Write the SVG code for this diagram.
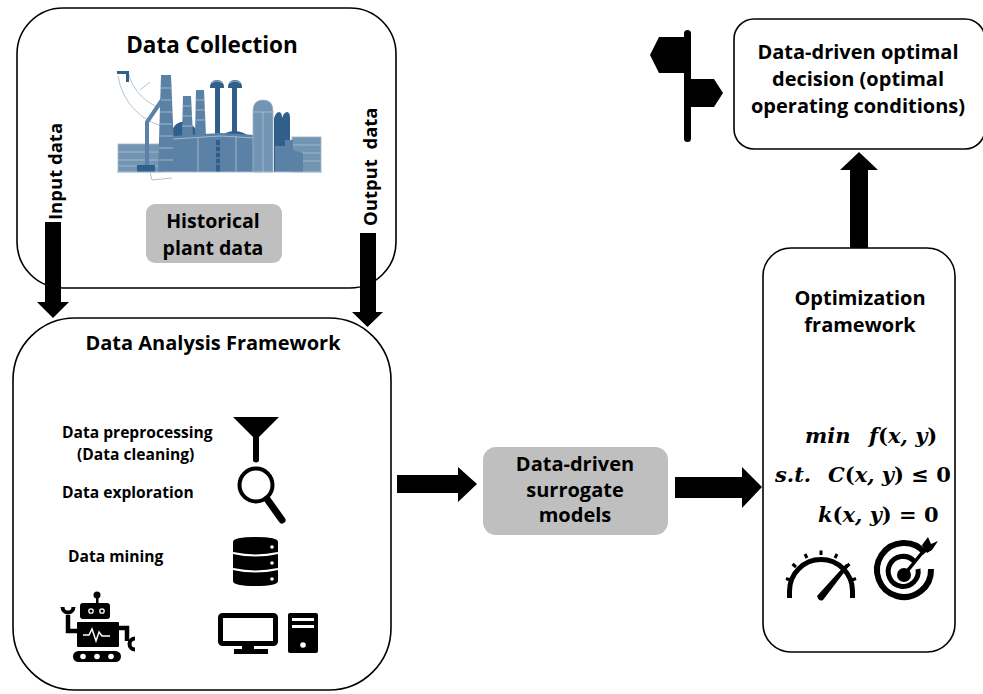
<svg xmlns="http://www.w3.org/2000/svg" width="983" height="694" viewBox="0 0 983 694">
  <style>
    .box { fill: #ffffff; stroke: #000000; stroke-width: 1.6; }
    .gbox { fill: #bfbfbf; }
    .t { font-family: "Open Sans", Lato, "Liberation Sans", sans-serif; font-weight: bold; fill: #000000; }
    .lbl { font-size: 15.6px; }
    .big { font-size: 20px; }
    .math { font-family: "DejaVu Serif", "Liberation Serif", serif; font-weight: bold; font-style: italic; font-size: 21px; fill: #000000; }
    .up { font-style: normal; }
    .blk { fill: #000000; }
    .wht { fill: #ffffff; }
    .fm { fill: #5b82a6; }
    .fd { fill: #2f5f8a; }
    .fl { fill: #7395b4; stroke: #9fb6c9; stroke-width: 0.8; }
    .ln { stroke: #a9bccc; stroke-width: 0.9; fill: none; }
  </style>

  <!-- Data collection -->
  <g id="data-collection">
    <rect class="box" x="17" y="8" width="379" height="280" rx="46"/>
    <text class="t" x="212" y="53" font-size="22.5" text-anchor="middle">Data Collection</text>
    <!-- plant illustration -->
    <g id="plant">
      <path class="ln" d="M118,76 A62,62 0 0 0 170,128"/>
      <path class="ln" d="M128,72 A50,50 0 0 0 168,110"/>
      <path class="ln" d="M140,90 L150,82"/>
      <path class="fd" d="M117,71 h12 v11 h-3 v-8 h-9 z"/>
      <rect class="fl" x="118" y="144" width="44" height="28"/>
      <path class="ln" d="M118,152 H162 M118,160 H162 M118,166 H162"/>
      <rect class="fl" x="292" y="137" width="29" height="35"/>
      <path class="ln" d="M292,145 H321 M292,153 H321 M292,161 H321"/>
      <path d="M147,170 V122 L162,100" fill="none" stroke="#5b82a6" stroke-width="4"/>
      <rect class="fd" x="137" y="165" width="18" height="7"/>
      <path class="fd" d="M170,140 Q172,120 186,122 Q196,124 200,140 Z"/>
      <path class="fm" d="M158,172 L161,75 L171,75 L175,172 Z"/>
      <path class="ln" d="M161,88 H171 M161,100 H171 M160,112 H172 M160,124 H172 M159,136 H173 M159,148 H174 M159,160 H174"/>
      <path class="fm" d="M182,136 L183,96 L191,96 L193,136 Z"/>
      <path class="fm" d="M195,136 L196,90 L204,90 L206,136 Z"/>
      <path class="ln" d="M183,106 H192 M183,116 H192 M182,126 H193 M196,100 H205 M196,110 H205 M195,120 H206"/>
      <rect class="fd" x="215" y="86" width="5" height="50"/>
      <rect class="fd" x="232" y="86" width="5" height="50"/>
      <path class="fd" d="M210,88 Q210,80 217,80 Q224,80 224,88 Z"/>
      <path class="fd" d="M228,88 Q228,80 235,80 Q242,80 242,88 Z"/>
      <path d="M212,83 Q217,79 222,83" stroke="#9fb6c9" stroke-width="1" fill="none"/>
      <path d="M230,83 Q235,79 240,83" stroke="#9fb6c9" stroke-width="1" fill="none"/>
      <path class="fd" d="M218,138 Q234,124 252,138 Z"/>
      <path class="fm" d="M173,172 V136 L220,133 L273,136 V172 Z"/>
      <path class="ln" d="M173,139 L220,136 L273,139 M236,136 V172 M198,138 V172"/>
      <path class="fd" d="M216,140 h4 v32 h-4 z M261,145 h4 v27 h-4 z"/>
      <path d="M216,146 h4 M216,152 h4 M216,158 h4 M216,164 h4 M261,151 h4 M261,157 h4 M261,163 h4" stroke="#7395b4" stroke-width="1"/>
      <path class="fl" d="M253,172 V111 Q253,100 263,100 Q273,100 273,111 V172 Z"/>
      <path class="ln" d="M253,112 H273 M263,112 V172"/>
      <path class="fd" d="M274,172 V118 Q276,112 279,112 Q282,112 282,118 Q284,112 287,112 Q290,112 290,118 V172 Z"/>
      <path class="fm" d="M275,172 V146 H285 V140 H293 V150 L303,153 V172 Z"/>
      <path class="ln" d="M117,172 H322"/>
      <path class="ln" d="M150,172 L152,180 L172,178"/>
    </g>
    <rect class="gbox" x="146" y="204" width="136" height="59" rx="9"/>
    <text class="t" x="213" y="228" font-size="19.5" text-anchor="middle">Historical</text>
    <text class="t" x="213" y="255" font-size="19.5" text-anchor="middle">plant data</text>
  </g>

  <!-- Data analysis framework -->
  <g id="data-analysis">
    <rect class="box" x="13" y="318" width="378" height="372" rx="62"/>
    <text class="t" x="213" y="350" font-size="20" text-anchor="middle">Data Analysis Framework</text>
    <text class="t lbl" x="62" y="438">Data preprocessing</text>
    <text class="t lbl" x="77" y="460">(Data cleaning)</text>
    <text class="t lbl" x="62" y="498">Data exploration</text>
    <text class="t lbl" x="68" y="562">Data mining</text>
    <!-- funnel -->
    <path class="blk" d="M233,417 H279 L259,437 V461 Q256,464 253,461 V437 Z"/>
    <!-- magnifier -->
    <circle cx="256" cy="485" r="16.5" fill="none" stroke="#000" stroke-width="4"/>
    <path d="M267,499 L282,520" stroke="#000" stroke-width="7" stroke-linecap="round"/>
    <!-- database -->
    <path class="blk" d="M233,542 Q233,537 255.5,537 Q278,537 278,542 V581 Q278,586 255.5,586 Q233,586 233,581 Z"/>
    <path d="M233,553 Q255.5,558 278,553 M233,569 Q255.5,574 278,569" stroke="#fff" stroke-width="2.2" fill="none"/>
    <circle class="wht" cx="272" cy="547" r="1.8"/>
    <circle class="wht" cx="272" cy="563" r="1.8"/>
    <circle class="wht" cx="272" cy="579" r="1.8"/>
    <!-- robot -->
    <circle class="blk" cx="97" cy="595" r="3.5"/>
    <rect class="blk" x="96" y="597" width="2.5" height="7"/>
    <rect class="blk" x="80" y="603" width="30" height="16" rx="3"/>
    <circle cx="91" cy="611" r="2.2" fill="none" stroke="#fff" stroke-width="1.3"/>
    <circle cx="102" cy="611" r="2.2" fill="none" stroke="#fff" stroke-width="1.3"/>
    <rect class="blk" x="77" y="622" width="42" height="25" rx="1"/>
    <polyline points="83,635 89,635 92,629 96,641 99,632 102,636 110,636" fill="none" stroke="#fff" stroke-width="1.5"/>
    <path d="M78,631 H68 V615" fill="none" stroke="#000" stroke-width="4.5"/>
    <path d="M62.5,607 A5.5,5.5 0 1 0 73.5,607" fill="none" stroke="#000" stroke-width="4"/>
    <path d="M118,628 H127 V641" fill="none" stroke="#000" stroke-width="4.5"/>
    <path d="M135,638.5 A5.5,5.5 0 1 0 135,649.5" fill="none" stroke="#000" stroke-width="4"/>
    <rect class="blk" x="73" y="651" width="48" height="11" rx="5.5"/>
    <circle class="wht" cx="83" cy="656.5" r="2.8"/>
    <circle class="wht" cx="97" cy="656.5" r="2.8"/>
    <circle class="wht" cx="111" cy="656.5" r="2.8"/>
    <!-- computer -->
    <rect x="220.5" y="615.5" width="55" height="28" rx="2" fill="#fff" stroke="#000" stroke-width="5"/>
    <rect class="blk" x="242" y="645" width="12" height="5"/>
    <rect class="blk" x="234" y="649" width="34" height="5"/>
    <rect class="blk" x="288" y="613" width="30" height="40" rx="2"/>
    <rect class="wht" x="292" y="618" width="22" height="3"/>
    <rect class="wht" x="292" y="625" width="22" height="3"/>
    <circle class="wht" cx="303" cy="645" r="2.8"/>
  </g>

  <!-- Surrogate models -->
  <g id="surrogate-models">
    <rect class="gbox" x="483" y="447" width="185" height="88" rx="13"/>
    <text class="t big" x="575" y="471" text-anchor="middle">Data-driven</text>
    <text class="t big" x="575" y="497" text-anchor="middle">surrogate</text>
    <text class="t big" x="575" y="522" text-anchor="middle">models</text>
  </g>

  <!-- Optimization framework -->
  <g id="optimization">
    <rect class="box" x="763" y="248" width="192" height="404" rx="28"/>
    <text class="t big" x="860" y="305" text-anchor="middle">Optimization</text>
    <text class="t big" x="860" y="332" text-anchor="middle">framework</text>
    <text class="math" y="443"><tspan x="805">min</tspan><tspan x="869">f<tspan class="up">(</tspan>x, y<tspan class="up">)</tspan></tspan></text>
    <text class="math" y="482"><tspan x="775">s.t.</tspan><tspan x="828">C<tspan class="up">(</tspan>x, y<tspan class="up">) ≤ 0</tspan></tspan></text>
    <text class="math" y="522" x="818">k<tspan class="up">(</tspan>x, y<tspan class="up">) = 0</tspan></text>
    <!-- gauge -->
    <path d="M789.5,598 V591 A31.5,31.5 0 0 1 852.5,591 V598" fill="none" stroke="#000" stroke-width="5"/>
    <path d="M790,580 l-4,-1.5 M796,567 l-3.5,-3 M807,558 l-2,-4 M821,555 v-4.5 M835,558 l2,-4 M846,567 l3.5,-3 M852,580 l4,-1.5" stroke="#000" stroke-width="3"/>
    <path class="blk" d="M817,596 L846,564 L849,566 L823,600 Q819,602 817,596 Z"/>
    <!-- target -->
    <path d="M925,553 A27,27 0 1 0 931,569" fill="none" stroke="#000" stroke-width="6"/>
    <path d="M914,561 A15,15 0 1 0 918,569" fill="none" stroke="#000" stroke-width="5"/>
    <circle class="blk" cx="904" cy="575" r="7"/>
    <path d="M904,575 L926,548" stroke="#000" stroke-width="3.5"/>
    <path class="blk" d="M922,545 L928,537 L931,544 L938,541 L932,550 L927,553 Z"/>
  </g>

  <!-- Optimal decision -->
  <g id="optimal-decision">
    <rect class="box" x="734" y="19" width="251" height="130" rx="20"/>
    <text class="t big" x="858" y="59" text-anchor="middle">Data-driven optimal</text>
    <text class="t big" x="858" y="86" text-anchor="middle">decision (optimal</text>
    <text class="t big" x="858" y="113" text-anchor="middle">operating conditions)</text>
    <!-- signpost -->
    <rect class="blk" x="684" y="30" width="7" height="112" rx="3.5"/>
    <path class="blk" d="M687,37 H659 L650,55 L659,73 H687 Z"/>
    <path class="blk" d="M689,79 H714 L723,93 L714,107 H689 Z"/>
  </g>

  <!-- block arrows -->
  <g id="connectors">
    <text class="t" transform="translate(62,220) rotate(-90)" font-size="18.5">Input data</text>
    <text class="t" transform="translate(377,226) rotate(-90)" font-size="18.5" xml:space="preserve">Output  data</text>
    <path class="blk" d="M45,222 H61 V302 H69 L53,318 L37,302 H45 Z"/>
    <path class="blk" d="M360,233 H376 V312 H383 L367.5,327 L352,312 H360 Z"/>
    <path class="blk" d="M397,475 H458 V467 L477,484 L458,502 V493 H397 Z"/>
    <path class="blk" d="M675,477 H742 V467 L762,487 L742,508 V498 H675 Z"/>
    <path class="blk" d="M850,248 V170 H840 L859,152 L878,170 H868 V248 Z"/>
  </g>
</svg>
